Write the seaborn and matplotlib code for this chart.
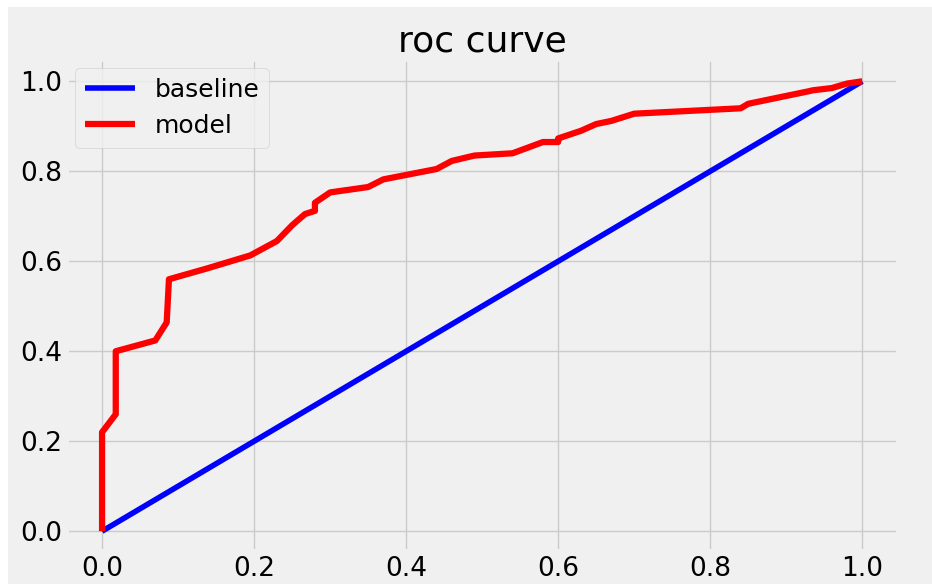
import seaborn as sns
import matplotlib.pyplot as plt
import pandas as pd
from matplotlib.patches import Rectangle

# values
fpr = [0.0, 0.0, 0.018, 0.018, 0.07, 0.085, 0.088, 0.138, 0.195, 0.23, 0.25, 0.267,
       0.28, 0.28, 0.30, 0.35, 0.37, 0.44, 0.46, 0.49, 0.54, 0.58, 0.60, 0.60,
       0.63, 0.65, 0.67, 0.70, 0.84, 0.85, 0.93, 0.935, 0.96, 0.98, 1.0]
tpr = [0.0, 0.22, 0.26, 0.40, 0.424, 0.464, 0.56, 0.584, 0.613, 0.645, 0.68, 0.705,
       0.712, 0.73, 0.753, 0.765, 0.782, 0.805, 0.823, 0.835, 0.84, 0.865, 0.865, 0.873,
       0.89, 0.905, 0.912, 0.928, 0.94, 0.95, 0.978, 0.98, 0.985, 0.995, 1.0]
base_x = [0.0, 1.0]
base_y = [0.0, 1.0]

plt.style.use('fivethirtyeight')
fig, ax = plt.subplots(figsize=(9.32, 5.84), dpi=100)
# thin white edge on the left and top like the screenshot
fig.patch.set_facecolor('white')
fig.patches.append(Rectangle((8 / 932, 0), 1, 1 - 7 / 584, transform=fig.transFigure,
                             facecolor='#f0f0f0', edgecolor='none', zorder=-10))

df_base = pd.DataFrame({'x': base_x, 'y': base_y})
df_model = pd.DataFrame({'x': fpr, 'y': tpr})
sns.lineplot(data=df_base, x='x', y='y', color='blue', lw=4, label='baseline', ax=ax,
             sort=False, estimator=None)
sns.lineplot(data=df_model, x='x', y='y', color='red', lw=4.5, label='model', ax=ax,
             sort=False, estimator=None)

ax.set_title('roc curve', fontsize=26)
ax.set_xlabel('')
ax.set_ylabel('')
ax.tick_params(labelsize=19)
ax.legend(loc='upper left', fontsize=18, borderaxespad=0.3)
ax.set_xlim(-0.046, 1.047)
ax.set_ylim(-0.044, 1.047)

fig.subplots_adjust(left=0.072, right=0.9635, bottom=0.0565, top=0.897)
fig.savefig('out.png', dpi=100, facecolor=fig.get_facecolor())
